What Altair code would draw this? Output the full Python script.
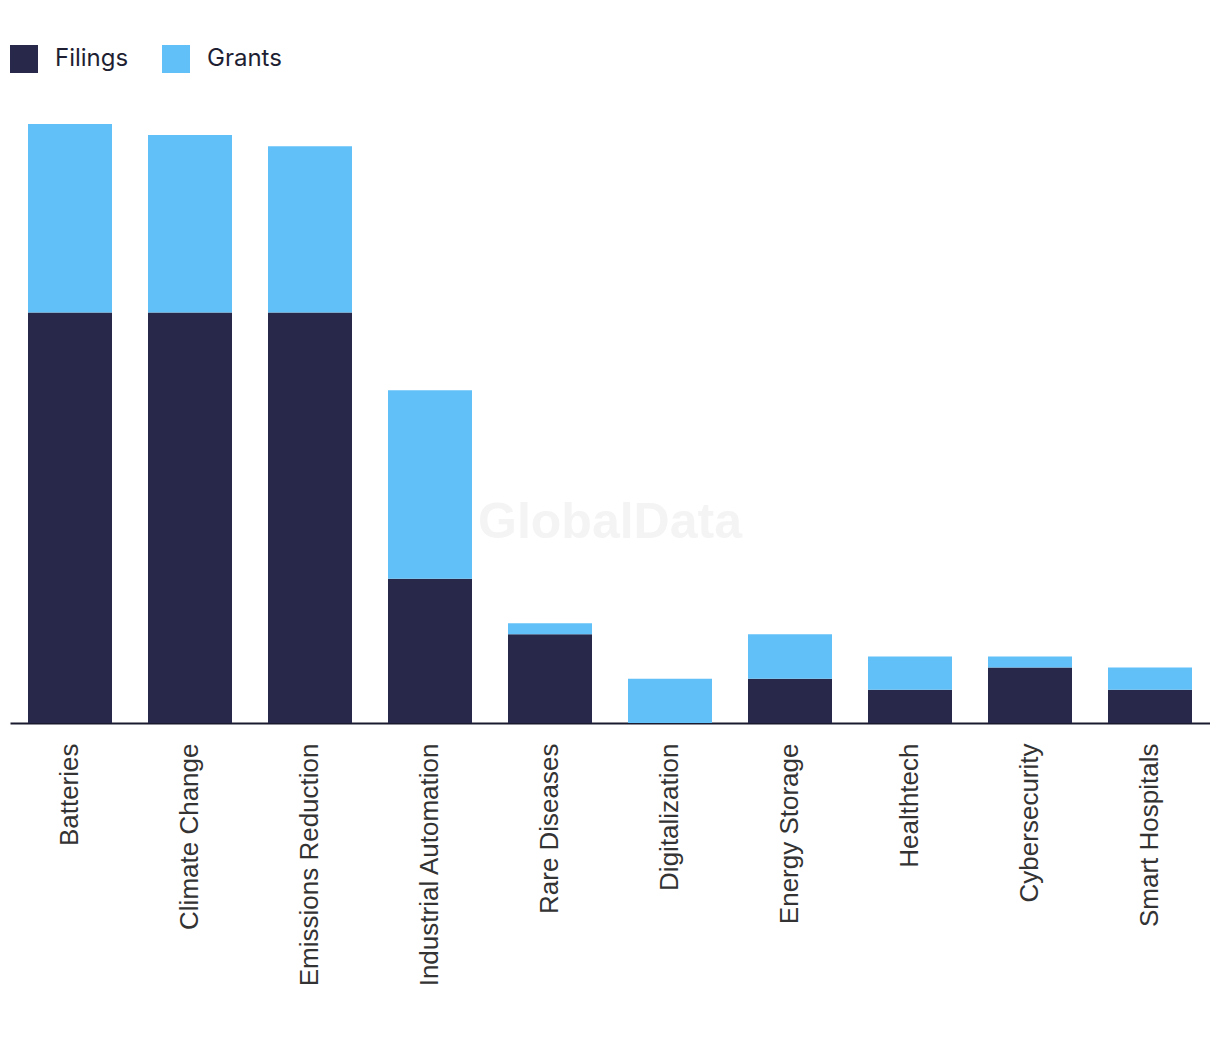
import altair as alt
import pandas as pd

categories = ["Batteries", "Climate Change", "Emissions Reduction", "Industrial Automation",
              "Rare Diseases", "Digitalization", "Energy Storage", "Healthtech",
              "Cybersecurity", "Smart Hospitals"]
filings = [37, 37, 37, 13, 8, 0, 4, 3, 5, 3]
grants = [17, 16, 15, 17, 1, 4, 4, 3, 1, 2]
series = ["Filings", "Grants"]
colors = ["#27284A", "#62C0F8"]

rows = []
for c, f, g in zip(categories, filings, grants):
    rows.append({"category": c, "type": "Filings", "value": f, "ord": 0})
    rows.append({"category": c, "type": "Grants", "value": g, "ord": 1})
df = pd.DataFrame(rows)

bars = alt.Chart(df).mark_bar().encode(
    x=alt.X("category:N", sort=categories, title=None,
            scale=alt.Scale(paddingInner=0.3, paddingOuter=0.15),
            axis=alt.Axis(labelAngle=270, labelAlign="right", labelBaseline="middle",
                          labelFont="Liberation Sans", labelFontSize=26, labelColor="#333333",
                          labelPadding=20, ticks=False, domainColor="#1a1a2e",
                          domainWidth=2, grid=False, labelOverlap=False, labelLimit=0)),
    y=alt.Y("value:Q", stack="zero", title=None, axis=None,
            scale=alt.Scale(domain=[0, 59.5], nice=False)),
    color=alt.Color("type:N", sort=series,
                    scale=alt.Scale(domain=series, range=colors),
                    legend=alt.Legend(title=None, orient="none", direction="horizontal",
                                      legendX=0, legendY=-18, symbolType="square",
                                      symbolSize=784, symbolStrokeWidth=0,
                                      labelFont="Inter", labelFontSize=24,
                                      labelColor="#1f1f33", labelOffset=17,
                                      columnPadding=33, symbolOpacity=1)),
    order=alt.Order("ord:Q", sort="ascending"),
)

wm = alt.Chart(pd.DataFrame({"t": ["GlobalData"]})).mark_text(
    font="Liberation Sans", fontWeight="bold", fontSize=50, color="#f4f4f4",
    align="center", baseline="middle"
).encode(text="t:N", x=alt.value(600), y=alt.value(460))

chart = alt.layer(wm, bars).properties(
    width=1200, height=660,
    autosize=alt.AutoSizeParams(type="none"),
    padding={"left": 2, "top": 55, "right": 0, "bottom": 300},
).configure_view(stroke=None)

chart.save("out.html", embed_options={"renderer": "svg", "actions": False})
